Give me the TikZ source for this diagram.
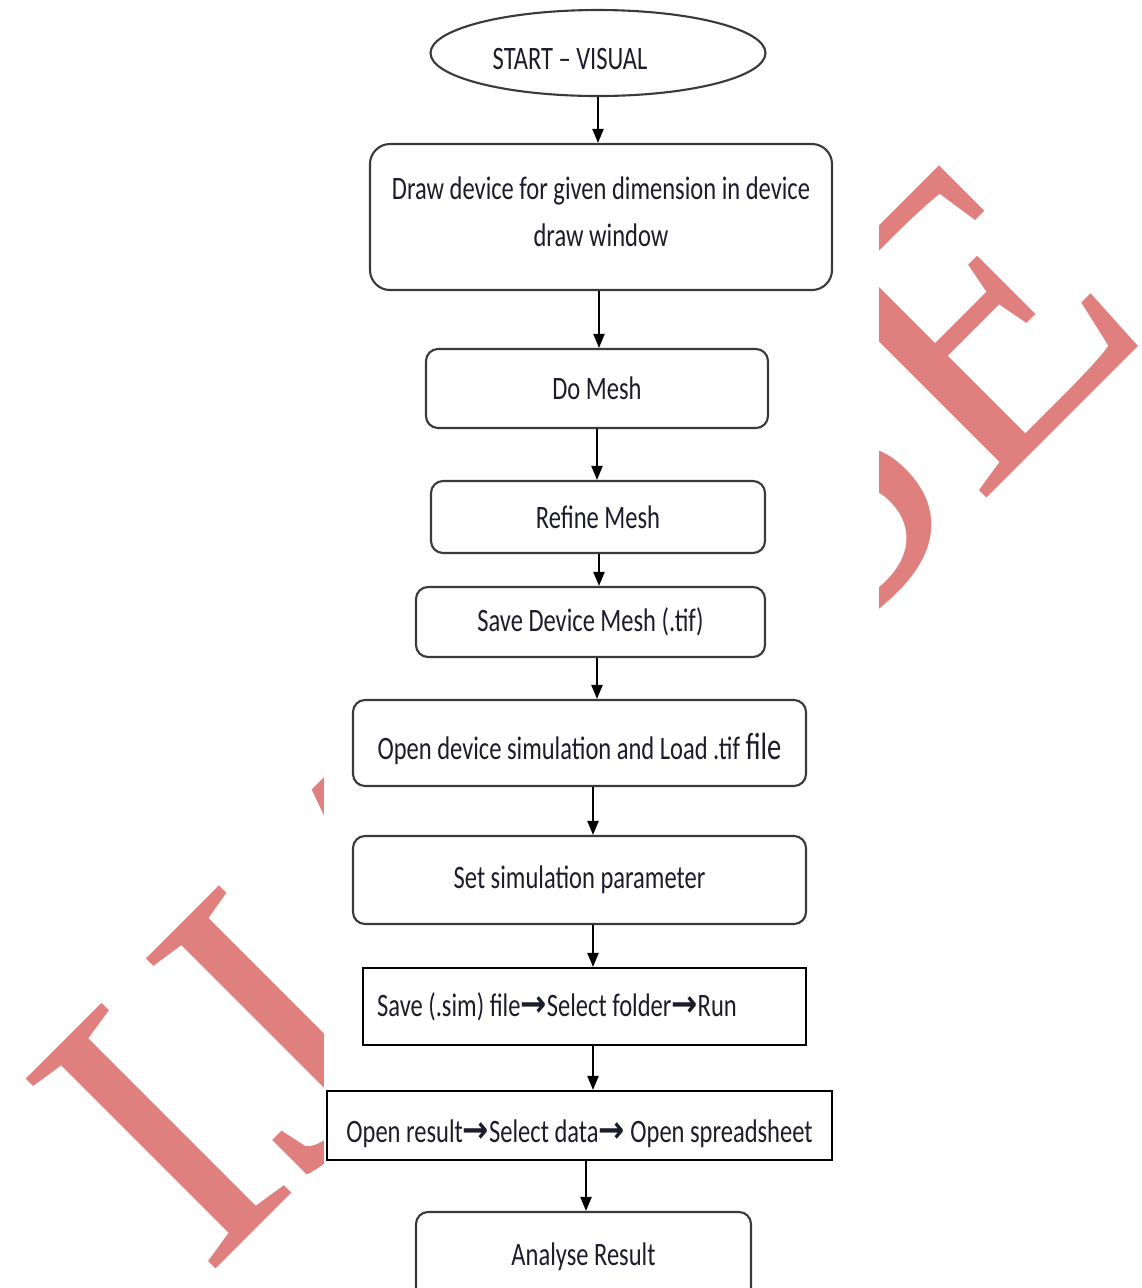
\documentclass[tikz,border=0pt]{standalone}
\usepackage{fontspec}
\setmainfont[FakeStretch=0.75]{Carlito}
\newfontfamily\markfont{Liberation Serif}
\newfontfamily\arrowfont[FakeStretch=0.85]{DejaVu Sans}
\usetikzlibrary{arrows.meta, shapes.geometric}
\definecolor{stamp}{RGB}{223,127,126}
\definecolor{edge}{HTML}{3A3A3A}
\definecolor{ink}{HTML}{1C1C2A}
\newcommand\nxt{{\arrowfont\bfseries\fontsize{10.5}{12}\selectfont\symbol{"2192}}}

\begin{document}
\begin{tikzpicture}[
  x=0.1mm, y=-0.1mm, font=\fontsize{9.3}{13.4}\selectfont, text=ink,
  b/.style={draw=edge, line width=0.6pt, fill=white, rounded corners=1.2mm, inner sep=0pt},
  sq/.style={draw=black, line width=0.6pt, fill=white, inner sep=0pt},
  low/.style={text height=3.2mm, text depth=0pt},
  ar/.style={-{Triangle[length=1.4mm, width=1.1mm]}, line width=0.6pt}
]
\useasboundingbox (0,0) rectangle (1141,1288);
\clip (0,0) rectangle (1141,1288);
\node[rotate=45, anchor=base west, inner sep=0pt, text=stamp,
  font=\markfont\fontsize{116.7}{120}\selectfont] (mark) at (205,1280) {IJARSE};
\fill[white] (324,-10) rectangle (879,1300);

\node[b, ellipse, rounded corners=0pt, low, minimum width=33.5mm, minimum height=8.6mm] (start) at (598,53) {START -- VISUAL\hspace*{5.6mm}};
\node[b, rounded corners=2mm, text depth=1mm, minimum width=46.2mm, minimum height=14.6mm, align=center] (draw) at (601,217) {Draw device for given dimension in device\\draw window};
\node[b, minimum width=34.2mm, minimum height=7.9mm] (mesh) at (597,388.5) {Do Mesh};
\node[b, minimum width=33.4mm, minimum height=7.2mm] (refine) at (598,517) {Refine Mesh};
\node[b, minimum width=34.9mm, minimum height=7mm] (savemesh) at (590.5,622) {Save Device Mesh (.tif)};
\node[b, low, minimum width=45.3mm, minimum height=8.6mm] (load) at (579.5,743) {Open device simulation and Load .tif {\fontsize{10.8}{12}\selectfont file}};
\node[b, minimum width=45.3mm, minimum height=8.8mm] (param) at (579.5,880) {Set simulation parameter};
\node[sq, minimum width=44.3mm, minimum height=7.7mm] (run) at (584.5,1006.5) {Save (.sim) file\nxt Select folder\nxt Run\hspace*{5.5mm}};
\node[sq, text height=3.4mm, text depth=0pt, minimum width=50.5mm, minimum height=6.9mm] (result) at (579.5,1125.5) {Open result\nxt Select data\nxt{} Open spreadsheet};
\node[b, minimum width=33.5mm, minimum height=9mm] (analyse) at (583.5,1257) {Analyse Result};

\draw[ar] (start.south) -- (start.south |- draw.north);
\draw[ar] ([xshift=-0.2mm]draw.south) -- ([xshift=-0.2mm]draw.south |- mesh.north);
\draw[ar] (mesh.south) -- (mesh.south |- refine.north);
\draw[ar] ([xshift=0.1mm]refine.south) -- ([xshift=0.1mm]refine.south |- savemesh.north);
\draw[ar] ([xshift=0.65mm]savemesh.south) -- ([xshift=0.65mm]savemesh.south |- load.north);
\draw[ar] ([xshift=1.35mm]load.south) -- ([xshift=1.35mm]load.south |- param.north);
\draw[ar] ([xshift=1.35mm]param.south) -- ([xshift=1.35mm]param.south |- run.north);
\draw[ar] ([xshift=0.85mm]run.south) -- ([xshift=0.85mm]run.south |- result.north);
\draw[ar] ([xshift=0.65mm]result.south) -- ([xshift=0.65mm]result.south |- analyse.north);
\end{tikzpicture}
\end{document}
